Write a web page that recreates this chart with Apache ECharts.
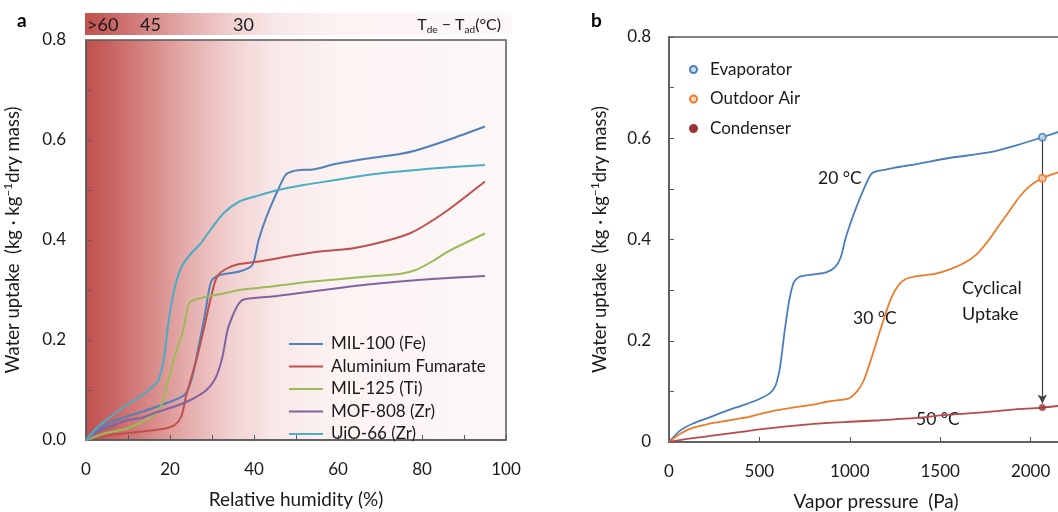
<!DOCTYPE html>
<html>
<head>
<meta charset="utf-8">
<script src="https://cdn.jsdelivr.net/npm/echarts@6.0.0/dist/echarts.min.js"></script>
<style>
  html, body { margin: 0; padding: 0; background: #fff; }
  #chart { width: 1058px; height: 512px; }
</style>
</head>
<body>
<div id="chart"></div>
<script>
// panel a: water uptake vs relative humidity (%)
var mil100 = [[0, 0], [2.9, 0.02], [5.9, 0.035], [9.7, 0.047], [13.5, 0.057], [17.3, 0.068], [21.1, 0.08], [23.4, 0.09], [24.6, 0.107], [25.7, 0.14], [26.8, 0.187], [27.6, 0.22], [28.5, 0.26], [29.3, 0.3], [30, 0.32], [31.9, 0.33], [36.5, 0.337], [39.6, 0.35], [41.1, 0.4], [43, 0.447], [45.7, 0.5], [47.5, 0.53], [49, 0.537], [51, 0.54], [54, 0.541], [59.4, 0.552], [67, 0.563], [74.7, 0.572], [78.5, 0.579], [86.2, 0.6], [95, 0.627]]
var alFumarate = [[0, 0], [5.9, 0.01], [13.5, 0.017], [18.9, 0.023], [21.1, 0.03], [22.7, 0.047], [23.8, 0.087], [24.9, 0.12], [26.5, 0.167], [28, 0.22], [29.6, 0.28], [31.2, 0.327], [33.5, 0.343], [36.5, 0.352], [41.1, 0.357], [48, 0.367], [55.6, 0.377], [63.3, 0.383], [70.9, 0.397], [77, 0.413], [80.8, 0.43], [86.2, 0.46], [95, 0.517]]
var mil125 = [[0, 0], [4.4, 0.013], [9.7, 0.023], [13.5, 0.037], [16.6, 0.053], [18.1, 0.073], [19.6, 0.12], [21.1, 0.167], [22.7, 0.207], [23.4, 0.23], [24.4, 0.27], [25.4, 0.279], [28.9, 0.287], [32.7, 0.293], [36.5, 0.3], [44.2, 0.307], [51.8, 0.315], [59.4, 0.321], [67, 0.327], [74.7, 0.332], [78.5, 0.34], [82.4, 0.357], [86.2, 0.377], [95, 0.413]]
var mof808 = [[0, 0], [2.9, 0.017], [5.9, 0.027], [9.7, 0.039], [13.5, 0.045], [17.3, 0.057], [21.1, 0.067], [24.9, 0.08], [28.7, 0.1], [31, 0.127], [32.5, 0.167], [33.7, 0.22], [35, 0.25], [36.3, 0.272], [37.5, 0.281], [40, 0.284], [44.2, 0.287], [51.8, 0.295], [59.4, 0.303], [67, 0.311], [74.7, 0.317], [82.4, 0.322], [95, 0.328]]
var uio66 = [[0, 0], [2.9, 0.027], [5.9, 0.047], [9.7, 0.07], [13.5, 0.09], [16.6, 0.113], [17.3, 0.12], [18.5, 0.16], [19.7, 0.24], [21.2, 0.307], [22.8, 0.347], [25, 0.373], [27.3, 0.393], [29.6, 0.42], [32.7, 0.453], [36.5, 0.477], [40.3, 0.487], [45.7, 0.5], [51.8, 0.51], [59.4, 0.52], [67, 0.53], [74.7, 0.537], [82.4, 0.543], [95, 0.55]]
var namesA = ['MIL-100 (Fe)', 'Aluminium Fumarate', 'MIL-125 (Ti)', 'MOF-808 (Zr)', 'UiO-66 (Zr)']
var colorsA = ['#4f81bd', '#c0504d', '#9bbb59', '#8064a2', '#4bacc6']
var barLabels = ['>60', '45', '30']

// panel b: water uptake vs vapor pressure (Pa)
var evaporator = [[0, 0], [60, 0.022], [130, 0.036], [220, 0.048], [320, 0.062], [420, 0.074], [500, 0.085], [560, 0.097], [590, 0.112], [615, 0.15], [640, 0.22], [665, 0.28], [690, 0.315], [720, 0.326], [800, 0.331], [870, 0.335], [920, 0.346], [950, 0.365], [975, 0.4], [1000, 0.428], [1030, 0.458], [1060, 0.485], [1090, 0.51], [1120, 0.53], [1150, 0.535], [1200, 0.538], [1250, 0.542], [1370, 0.549], [1550, 0.561], [1770, 0.572], [1920, 0.586], [2065, 0.602], [2200, 0.618]]
var outdoorAir = [[0, 0], [60, 0.016], [130, 0.028], [220, 0.036], [320, 0.042], [420, 0.048], [500, 0.055], [600, 0.063], [700, 0.069], [800, 0.074], [880, 0.08], [950, 0.083], [1000, 0.087], [1040, 0.1], [1075, 0.12], [1110, 0.155], [1150, 0.2], [1190, 0.245], [1230, 0.285], [1270, 0.31], [1310, 0.322], [1380, 0.328], [1470, 0.332], [1560, 0.342], [1640, 0.355], [1700, 0.37], [1760, 0.395], [1820, 0.425], [1880, 0.455], [1940, 0.485], [2000, 0.507], [2065, 0.521], [2150, 0.532], [2200, 0.536]]
var condenser = [[0, 0], [120, 0.007], [250, 0.013], [400, 0.02], [500, 0.025], [650, 0.031], [800, 0.036], [1000, 0.04], [1170, 0.043], [1350, 0.047], [1550, 0.054], [1750, 0.059], [1900, 0.064], [2065, 0.068], [2200, 0.073]]
var cyclePressure = 2065
var cyclePoints = [0.602, 0.521, 0.068]
var namesB = ['Evaporator', 'Outdoor Air', 'Condenser']
var colorsB = ['#4a7ebb', '#ee7b2a', '#b9494b']
var markerB = ['#4a7ebb', '#ee7b2a', '#9c3434']
var markerFill = ['#cfdcf0', '#fbd9c0', '#9c3434']

var font = 'Lato, "Noto Sans", sans-serif'
var txt = '#1a1a1a'
var frame = '#595959'

var fade = function () {
  return new echarts.graphic.LinearGradient(0, 0, 1, 0, [
    { offset: 0, color: 'rgb(192,80,77)' },
    { offset: 0.06, color: 'rgb(200,100,98)' },
    { offset: 0.15, color: 'rgb(215,135,133)' },
    { offset: 0.25, color: 'rgb(230,176,175)' },
    { offset: 0.35, color: 'rgb(242,210,210)' },
    { offset: 0.45, color: 'rgb(249,232,232)' },
    { offset: 0.6, color: 'rgb(252,243,243)' },
    { offset: 1, color: 'rgb(253,247,247)' }
  ])
}

var yLabel = function (zero) {
  return function (v) {
    var k = Math.round(v * 10)
    if (k % 2) return ''
    if (k === 0) return zero
    return (k / 10).toFixed(1)
  }
}

var uptakeName = '{a|Water uptake  (kg · kg}{p|−1}{a|dry mass)}'
var uptakeRich = {
  a: { fontSize: 18.5, fontFamily: font, color: txt, lineHeight: 22 },
  p: { fontSize: 12, fontFamily: font, color: txt, lineHeight: 22, verticalAlign: 'top' }
}

var axisCommon = {
  axisLine: { lineStyle: { color: frame, width: 1.5 } },
  axisTick: { inside: true, length: 5, lineStyle: { color: frame } },
  splitLine: { show: false },
  axisLabel: { color: txt, fontSize: 17, fontFamily: font }
}

var chart = echarts.init(document.getElementById('chart'))

var seriesA = [mil100, alFumarate, mil125, mof808, uio66].map(function (d, i) {
  return {
    name: namesA[i],
    type: 'line',
    xAxisIndex: 0,
    yAxisIndex: 0,
    smooth: 0.25,
    symbol: 'none',
    lineStyle: { color: colorsA[i], width: 2 },
    itemStyle: { color: colorsA[i] },
    data: d
  }
})

var seriesB = [evaporator, outdoorAir, condenser].map(function (d, i) {
  return {
    name: namesB[i],
    type: 'line',
    xAxisIndex: 1,
    yAxisIndex: 1,
    smooth: 0.25,
    symbol: 'none',
    lineStyle: { color: colorsB[i], width: 1.8 },
    itemStyle: { color: markerB[i] },
    data: d
  }
})

// cycle points and the uptake arrow
seriesB.push({
  type: 'scatter',
  xAxisIndex: 1,
  yAxisIndex: 1,
  symbolSize: 7,
  z: 5,
  data: cyclePoints.map(function (v, i) {
    return {
      value: [cyclePressure, v],
      itemStyle: { color: markerFill[i], borderColor: markerB[i], borderWidth: i === 2 ? 0 : 2 }
    }
  }),
  markLine: {
    silent: true,
    symbol: ['none', 'arrow'],
    symbolSize: [7, 9],
    label: { show: false },
    lineStyle: { color: '#404040', width: 1.2, type: 'solid' },
    data: [[{ coord: [cyclePressure, cyclePoints[0]] }, { coord: [cyclePressure, cyclePoints[2] + 0.008] }]]
  }
})

var option = {
  animation: false,
  backgroundColor: '#fff',
  textStyle: { fontFamily: font },
  grid: [
    { left: 86, top: 40, width: 420, height: 400, show: true, backgroundColor: fade(), borderColor: frame, borderWidth: 1.5, containLabel: false, outerBoundsMode: 'none' },
    { left: 669, top: 37, width: 452, height: 405, show: true, backgroundColor: '#fff', borderColor: frame, borderWidth: 1.5, containLabel: false, outerBoundsMode: 'none' }
  ],
  xAxis: [
    Object.assign({}, axisCommon, {
      type: 'value', gridIndex: 0, min: 0, max: 100, interval: 10,
      name: 'Relative humidity (%)', nameLocation: 'middle', nameGap: 50,
      nameTextStyle: { color: txt, fontSize: 19, fontFamily: font },
      axisLabel: Object.assign({}, axisCommon.axisLabel, {
        margin: 21,
        formatter: function (v) { return v % 20 === 0 ? String(v) : '' }
      })
    }),
    Object.assign({}, axisCommon, {
      type: 'value', gridIndex: 1, min: 0, max: 2500, interval: 500,
      name: 'Vapor pressure  (Pa)', nameLocation: 'middle', nameGap: 50,
      nameTextStyle: { color: txt, fontSize: 19, fontFamily: font, padding: [0, 38, 0, 0] },
      axisLabel: Object.assign({}, axisCommon.axisLabel, {
        margin: 21,
        formatter: function (v) { return String(v) }
      })
    })
  ],
  yAxis: [
    Object.assign({}, axisCommon, {
      type: 'value', gridIndex: 0, min: 0, max: 0.8, interval: 0.1,
      name: uptakeName, nameLocation: 'middle', nameGap: 62,
      nameTextStyle: { rich: uptakeRich },
      axisLabel: Object.assign({}, axisCommon.axisLabel, { margin: 20, formatter: yLabel('0.0') })
    }),
    Object.assign({}, axisCommon, {
      type: 'value', gridIndex: 1, min: 0, max: 0.8, interval: 0.1,
      name: uptakeName, nameLocation: 'middle', nameGap: 58,
      nameTextStyle: { rich: uptakeRich },
      axisLabel: Object.assign({}, axisCommon.axisLabel, { margin: 18, formatter: yLabel('0') })
    })
  ],
  legend: [
    {
      data: namesA.map(function (n, i) {
        return { name: n, icon: 'rect', itemStyle: { color: colorsA[i] } }
      }),
      orient: 'vertical',
      left: 289,
      top: 335.5,
      padding: 0,
      itemWidth: 34,
      itemHeight: 2,
      itemGap: 5.5,
      textStyle: { color: txt, fontSize: 17, fontFamily: font, lineHeight: 17, padding: [0, 0, 0, 3] }
    },
    {
      data: namesB.map(function (n, i) {
        return { name: n, icon: 'circle', itemStyle: { color: markerFill[i], borderColor: markerB[i], borderWidth: 2 } }
      }),
      orient: 'vertical',
      left: 689,
      top: 61,
      padding: 0,
      itemWidth: 7,
      itemHeight: 7,
      itemGap: 12.5,
      textStyle: { color: txt, fontSize: 17, fontFamily: font, lineHeight: 17, padding: [0, 0, 0, 8] }
    }
  ],
  graphic: [
    // temperature difference bar above panel a
    { type: 'rect', shape: { x: 85, y: 13, width: 427, height: 22 }, style: { fill: fade() }, silent: true },
    { type: 'text', x: 87, y: 25, style: { text: barLabels[0], fontSize: 18, fontFamily: font, fill: txt, verticalAlign: 'middle' } },
    { type: 'text', x: 140, y: 25, style: { text: barLabels[1], fontSize: 18, fontFamily: font, fill: txt, verticalAlign: 'middle' } },
    { type: 'text', x: 233, y: 25, style: { text: barLabels[2], fontSize: 18, fontFamily: font, fill: txt, verticalAlign: 'middle' } },
    {
      type: 'text', x: 501, y: 25,
      style: {
        text: '{n|T}{s|de}{n| − T}{s|ad}{n|(°C)}',
        align: 'right', verticalAlign: 'middle',
        rich: {
          n: { fontSize: 16, fontFamily: font, fill: txt, lineHeight: 20 },
          s: { fontSize: 10, fontFamily: font, fill: txt, lineHeight: 20, verticalAlign: 'bottom' }
        }
      }
    },
    // panel letters
    { type: 'text', x: 17, y: 11, style: { text: 'a', fontSize: 19, fontWeight: 'bold', fontFamily: font, fill: '#000' } },
    { type: 'text', x: 591, y: 11, style: { text: 'b', fontSize: 19, fontWeight: 'bold', fontFamily: font, fill: '#000' } },
    // temperature notes on panel b
    { type: 'text', x: 818, y: 178, style: { text: '20 °C', fontSize: 17.5, fontFamily: font, fill: txt, verticalAlign: 'middle' } },
    { type: 'text', x: 853, y: 318, style: { text: '30 °C', fontSize: 17.5, fontFamily: font, fill: txt, verticalAlign: 'middle' } },
    { type: 'text', x: 916, y: 419, style: { text: '50 °C', fontSize: 17.5, fontFamily: font, fill: txt, verticalAlign: 'middle' } },
    { type: 'text', x: 962, y: 275, style: { text: 'Cyclical\nUptake', fontSize: 18, fontFamily: font, fill: txt, lineHeight: 26 } }
  ],
  series: seriesA.concat(seriesB)
}

chart.setOption(option)
</script>
</body>
</html>
